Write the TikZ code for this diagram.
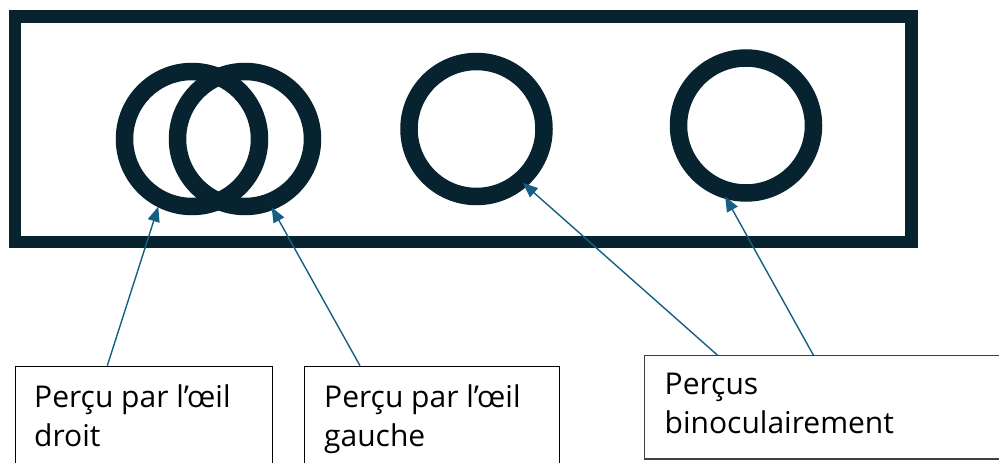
\documentclass[tikz,border=0pt]{standalone}
\usepackage{fontspec}
\setmainfont{Open Sans}
\usetikzlibrary{arrows.meta}
\definecolor{ringcol}{HTML}{06232F}
\definecolor{arrcol}{HTML}{156082}
\definecolor{box3col}{HTML}{404040}
\tikzset{
  ring/.style={circle, draw=ringcol, line width=17.5pt, minimum size=135pt, inner sep=0pt},
  tbox/.style={rectangle, draw=black, line width=1pt, anchor=north west, inner sep=0pt},
  txt/.style={anchor=base west, inner sep=0pt, align=left, font=\fontsize{30}{39}\selectfont},
  arr/.style={draw=arrcol, line width=1.4pt, -{Triangle[length=15pt,width=12pt]}}
}
\begin{document}
\begin{tikzpicture}[x=1pt,y=-1pt]
\useasboundingbox (0,0) rectangle (999,463);
\clip (0,0) rectangle (999,463);
% frame
\draw[ringcol, line width=12.6pt] (14.8,16.2) rectangle (911.6,241.8);
% rings
\node[ring] (c1) at (192,139) {};
\node[ring] (c2) at (245,139) {};
\node[ring] (c3) at (476.5,129) {};
\node[ring] (c4) at (746,125.5) {};
% boxes
\node[tbox, minimum width=257pt, minimum height=130pt] (b1) at (14.7,365.7) {};
\node[tbox, minimum width=255.3pt, minimum height=130pt] (b2) at (304,365.7) {};
\node[tbox, draw=box3col, line width=1.3pt, minimum width=400pt, minimum height=103.3pt] (b3) at (644,355) {};
% texts (anchor = baseline of last line)
\node[txt] (t1) at (34,446) {Perçu par l’œil\\droit};
\node[txt] (t2) at (324,446) {Perçu par l’œil\\gauche};
\node[txt] (t3) at (664.5,433.3) {Perçus\\binoculairement};
% arrows
\draw[arr] ([xshift=92.6pt]b1.north west) -- ([shift={(243.5:75.6pt)}]c1.center);
\draw[arr] ([xshift=56pt]b2.north west) -- ([shift={(291.3:73.3pt)}]c2.center);
\draw[arr] ([xshift=73.3pt]b3.north west) -- ([shift={(310.7:71pt)}]c3.center);
\draw[arr] ([xshift=169.3pt]b3.north west) -- ([shift={(253.6:74pt)}]c4.center);
\end{tikzpicture}
\end{document}
